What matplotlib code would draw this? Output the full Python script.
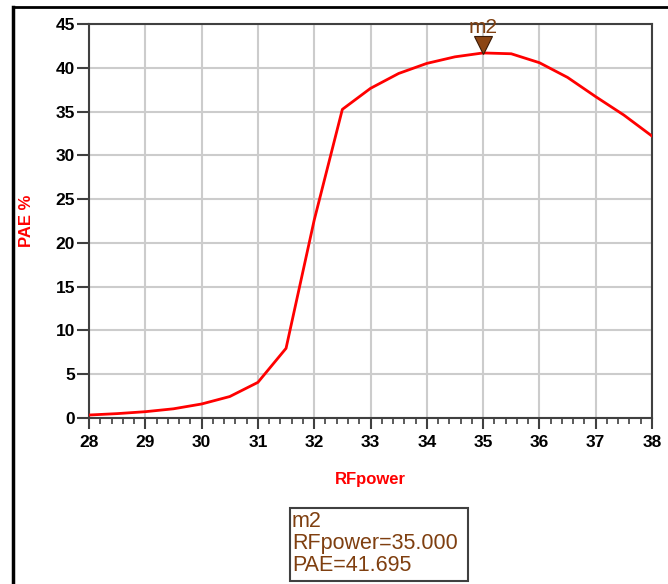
import matplotlib
matplotlib.use("Agg")
import matplotlib.pyplot as plt
import matplotlib.patches as mpatches
import matplotlib.lines as mlines
from matplotlib.ticker import MultipleLocator
from matplotlib.transforms import offset_copy

# swept RF input power and power added efficiency
rf_power = [28, 28.5, 29, 29.5, 30, 30.5, 31, 31.5, 32, 32.5, 33, 33.5,
            34, 34.5, 35, 35.5, 36, 36.5, 37, 37.5, 38]
pae = [0.34, 0.5, 0.72, 1.05, 1.6, 2.45, 4.07, 7.96, 22.6, 35.25, 37.65, 39.35,
       40.5, 41.25, 41.695, 41.6, 40.58, 38.9, 36.7, 34.6, 32.2]

marker_name = "m2"
marker_x = 35.0
marker_y = 41.695

xticks = list(range(28, 39))
yticks = list(range(0, 46, 5))

brown = "#7f3f10"
W, H = 668, 584

plt.rcParams["font.family"] = ["Liberation Sans", "DejaVu Sans"]

fig = plt.figure(figsize=(W / 100, H / 100), dpi=100)
ax = fig.add_axes([89 / W, 1 - 418 / H, (652 - 89) / W, (418 - 24) / H])

ax.plot(rf_power, pae, color="red", lw=2, zorder=3)

ax.set_xlim(28, 38)
ax.set_ylim(0, 45)
ax.set_xticks(xticks)
ax.set_yticks(yticks)
ax.xaxis.set_minor_locator(MultipleLocator(0.2))
ax.grid(True, which="major", color="#cccccc", lw=1.5)
ax.set_axisbelow(True)

for s in ax.spines.values():
    s.set_color("#404040")
    s.set_linewidth(1.5)

ax.tick_params(axis="x", which="major", length=8, width=1.5, color="#404040",
               pad=4, labelsize=12.5)
ax.tick_params(axis="x", which="minor", length=4.5, width=1.2, color="#404040")
ax.tick_params(axis="y", which="major", length=9, width=1.5, color="#404040",
               pad=1, labelsize=12.5)
for lab in ax.get_xticklabels() + ax.get_yticklabels():
    lab.set_fontweight("bold")

ax.set_xlabel("RFpower", color="red", fontsize=12, fontweight="bold")
ax.xaxis.set_label_coords(0.5, -0.137)
ax.set_ylabel("PAE %", color="red", fontsize=12, fontweight="bold")
ax.yaxis.set_label_coords(-0.098, 0.5)

# marker triangle with tip on the curve
tri_tr = offset_copy(ax.transData, fig=fig, x=0, y=5.4, units="points")
ax.plot(marker_x, marker_y, marker="v", ms=13, color="#8b4513",
        mec="#3a1a05", mew=0.8, transform=tri_tr, clip_on=False, zorder=5)
ax.annotate(marker_name, (marker_x, marker_y), xytext=(0, 14.5),
            textcoords="offset points", ha="center", va="baseline",
            fontsize=15, color=brown, annotation_clip=False)

# marker readout box
fig.patches.append(mpatches.Rectangle((290 / W, 1 - 581 / H), 178 / W, 73 / H,
                                      transform=fig.transFigure, fill=False,
                                      ec="#404040", lw=1.5))
fig.text(292 / W, 1 - 511 / H,
         "%s\nRFpower=%.3f\nPAE=%.3f" % (marker_name, marker_x, marker_y),
         ha="left", va="top", fontsize=15.5, color=brown, linespacing=1.05)

# outer frame
fig.lines.append(mlines.Line2D([13 / W, 13 / W], [0, 1 - 7 / H], color="black",
                               lw=2.5, transform=fig.transFigure))
fig.lines.append(mlines.Line2D([13 / W, 1], [1 - 7 / H, 1 - 7 / H], color="black",
                               lw=2, transform=fig.transFigure))

fig.savefig("out.png", dpi=100)
